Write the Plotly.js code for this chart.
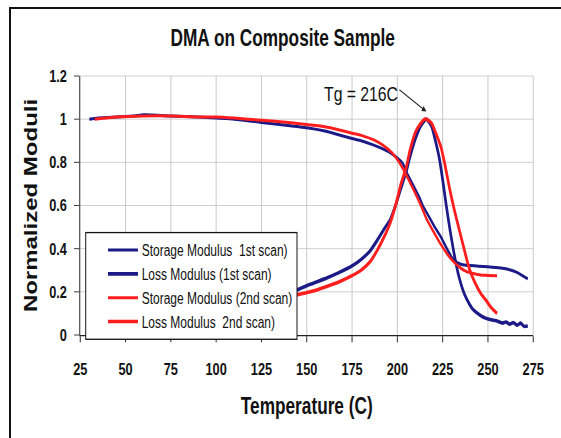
<!DOCTYPE html>
<html>
<head>
<meta charset="utf-8">
<script src="https://cdn.plot.ly/plotly-3.0.1.min.js"></script>
<style>
  html, body { margin:0; padding:0; background:#fff; overflow:hidden; }
  #frame { position:absolute; left:9px; top:7px; width:600px; height:500px;
           border-left:2px solid #111; border-top:2px solid #111; }
  #chart { position:absolute; left:0; top:0; width:748px; height:438px;
           transform: scaleX(0.75); transform-origin: 0 0; }
</style>
</head>
<body>
<div id="frame"></div>
<div id="chart"></div>
<script>
// Storage modulus, 1st scan
const storage1X = [30, 35, 45, 55, 60, 75, 90, 100, 110, 120, 125, 135, 150, 160, 168, 175, 180, 187, 192, 196, 200, 203, 205, 209, 212, 214, 218, 221, 224, 227, 230, 233, 236, 240, 245, 250, 257, 262, 266, 269, 272];
const storage1Y = [1.0, 1.005, 1.01, 1.015, 1.02, 1.015, 1.01, 1.005, 1.0, 0.99, 0.985, 0.975, 0.96, 0.945, 0.927, 0.91, 0.9, 0.88, 0.862, 0.845, 0.82, 0.795, 0.755, 0.69, 0.64, 0.6, 0.54, 0.495, 0.455, 0.405, 0.36, 0.335, 0.325, 0.322, 0.319, 0.316, 0.31, 0.302, 0.29, 0.275, 0.26];
// Loss modulus, 1st scan
const loss1X = [140, 145, 152, 161, 168, 175, 180, 185, 189, 193, 196, 199, 202, 205, 207, 210, 213, 216, 219, 221, 223, 225, 227, 229, 232, 234, 237, 240, 242, 246, 249, 253, 255, 258, 260, 262, 264, 266, 268, 270, 272];
const loss1Y = [0.195, 0.21, 0.235, 0.264, 0.29, 0.32, 0.35, 0.39, 0.44, 0.495, 0.533, 0.6, 0.68, 0.76, 0.826, 0.91, 0.97, 1.0, 0.965, 0.9, 0.826, 0.72, 0.6, 0.49, 0.347, 0.27, 0.19, 0.14, 0.116, 0.09, 0.077, 0.068, 0.065, 0.055, 0.06, 0.05, 0.058, 0.045, 0.055, 0.04, 0.042];
// Storage modulus, 2nd scan
const storage2X = [33, 45, 60, 75, 90, 100, 110, 125, 140, 150, 160, 168, 175, 180, 187, 192, 197, 201, 205, 209, 213, 216, 220, 224, 228, 231, 235, 238, 242, 246, 250, 255];
const storage2Y = [1.0, 1.01, 1.015, 1.015, 1.01, 1.01, 1.005, 0.995, 0.985, 0.975, 0.965, 0.95, 0.935, 0.925, 0.904, 0.88, 0.845, 0.8, 0.74, 0.672, 0.6, 0.54, 0.478, 0.42, 0.37, 0.34, 0.31, 0.295, 0.285, 0.278, 0.276, 0.274];
// Loss modulus, 2nd scan
const loss2X = [140, 145, 152, 161, 168, 175, 180, 185, 189, 193, 196, 199, 202, 205, 207, 210, 212, 215, 217, 219, 221, 224, 226, 229, 232, 235, 238, 240, 243, 246, 249, 252, 255];
const loss2Y = [0.18, 0.187, 0.2, 0.225, 0.247, 0.275, 0.3, 0.34, 0.394, 0.46, 0.518, 0.6, 0.7, 0.78, 0.857, 0.94, 0.97, 1.0, 0.995, 0.98, 0.94, 0.873, 0.8, 0.672, 0.56, 0.46, 0.36, 0.3, 0.24, 0.193, 0.16, 0.125, 0.1];

const seriesNames = ['Storage Modulus  1st scan)', 'Loss Modulus (1st scan)', 'Storage Modulus (2nd scan)', 'Loss Modulus  2nd scan)'];
const xTicks = [25, 50, 75, 100, 125, 150, 175, 200, 225, 250, 275];
const yTicks = [0, 0.2, 0.4, 0.6, 0.8, 1, 1.2];
const tgLabel = 'Tg = 216C';
const tgTemp = 216;

const BLUE = '#1c1a86';
const RED = '#ff1e1e';
const SANS = '"Liberation Sans", Arial, sans-serif';

const traces = [
  {x: storage1X, y: storage1Y, name: seriesNames[0], color: BLUE, w: 3},
  {x: loss1X, y: loss1Y, name: seriesNames[1], color: BLUE, w: 3.6},
  {x: storage2X, y: storage2Y, name: seriesNames[2], color: RED, w: 3},
  {x: loss2X, y: loss2Y, name: seriesNames[3], color: RED, w: 3.6}
].map((s, i) => ({
  type: 'scatter', mode: 'lines', x: s.x, y: s.y, name: s.name,
  legendgroup: 'g' + i,
  line: {color: s.color, width: s.w, shape: 'spline', smoothing: 0.5}
}));

const layout = {
  width: 748, height: 438,
  margin: {l: 107, r: 37, t: 76, b: 103},
  paper_bgcolor: 'rgba(0,0,0,0)',
  plot_bgcolor: '#ffffff',
  font: {family: SANS, color: '#111'},
  title: {
    text: 'DMA on Composite Sample',
    font: {family: SANS, size: 23, weight: 'bold', color: '#111'},
    xref: 'container', yref: 'container', x: 0.504, y: 0.913,
    xanchor: 'center', yanchor: 'middle'
  },
  xaxis: {
    range: [25, 275], tickvals: xTicks, ticktext: xTicks.map(String),
    showgrid: true, gridcolor: '#c8c8c8', gridwidth: 1.3,
    showline: true, linecolor: '#222', linewidth: 1.3,
    ticks: 'outside', ticklen: 6, tickcolor: '#222', tickwidth: 1.3,
    ticklabelstandoff: 12,
    tickfont: {family: SANS, size: 17, weight: 'bold', color: '#111'},
    zeroline: false,
    title: {text: 'Temperature (C)', standoff: 20,
            font: {family: SANS, size: 23, weight: 'bold', color: '#111'}}
  },
  yaxis: {
    range: [0, 1.2], tickvals: yTicks, ticktext: yTicks.map(String),
    showgrid: true, gridcolor: '#c8c8c8', gridwidth: 1,
    showline: true, linecolor: '#222', linewidth: 1.3,
    ticks: 'outside', ticklen: 7, tickcolor: '#222',
    ticklabelstandoff: 6,
    tickfont: {family: SANS, size: 17, weight: 'bold', color: '#111'},
    zeroline: false,
    title: {text: 'Normalized Moduli', standoff: 8,
            font: {family: SANS, size: 24, weight: 'bold', color: '#111'}}
  },
  legend: {
    x: 0.011, y: 0.398, xanchor: 'left', yanchor: 'top',
    bgcolor: '#ffffff', bordercolor: '#111', borderwidth: 1.3,
    font: {family: SANS, size: 16, color: '#111'},
    tracegroupgap: 3, traceorder: 'normal',
    indentation: 24, itemwidth: 40
  },
  shapes: [
    {type: 'line', xref: 'paper', yref: 'paper', x0: 0, x1: 1, y0: 1, y1: 1, line: {color: '#c8c8c8', width: 1}},
    {type: 'line', xref: 'paper', yref: 'paper', x0: 1, x1: 1, y0: 0, y1: 1, line: {color: '#c8c8c8', width: 1.3}}
  ],
  annotations: [
    {x: 180, y: 1.12, xref: 'x', yref: 'y', text: tgLabel, showarrow: false,
     font: {family: SANS, size: 21, color: '#111'}},
    {x: tgTemp, y: 1.035, xref: 'x', yref: 'y', ax: 200.5, ay: 1.14, axref: 'x', ayref: 'y',
     text: '', showarrow: true, arrowhead: 2, arrowsize: 1, arrowwidth: 1.2, arrowcolor: '#222'}
  ],
  showlegend: true
};

Plotly.newPlot('chart', traces, layout, {displayModeBar: false, staticPlot: true});
</script>
</body>
</html>
